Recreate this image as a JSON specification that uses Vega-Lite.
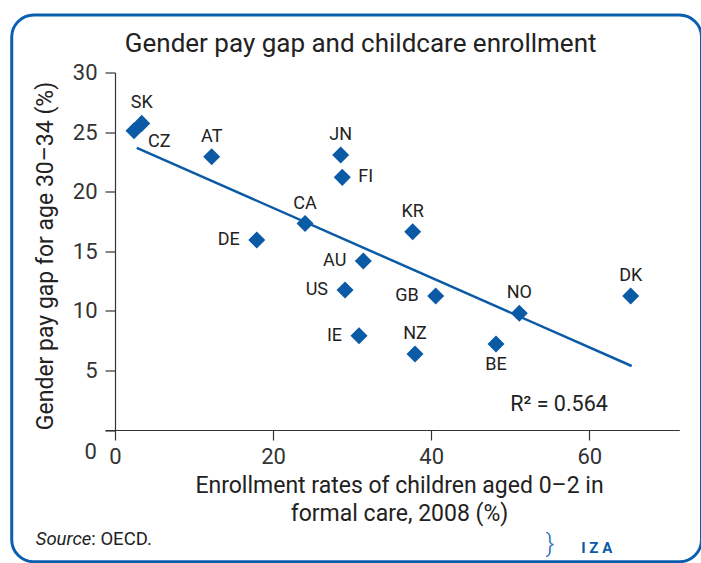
{
  "$schema": "https://vega.github.io/schema/vega-lite/v6.json",
  "width": 574.3,
  "height": 357.5,
  "autosize": {"type": "none"},
  "padding": {"left": 105, "top": 72.5, "right": 21.7, "bottom": 133},
  "background": "white",
  "title": {
    "text": "Gender pay gap and childcare enrollment",
    "font": "Roboto",
    "fontSize": 26,
    "fontWeight": "normal",
    "color": "#222222",
    "anchor": "middle",
    "frame": "group",
    "dx": -31.5,
    "baseline": "alphabetic",
    "offset": -64
  },
  "config": {
    "view": {"stroke": null},
    "font": "Roboto",
    "text": {"font": "Roboto"},
    "axis": {
      "grid": false,
      "domainColor": "#333333",
      "tickColor": "#333333",
      "domainWidth": 1.2,
      "tickWidth": 1.2,
      "tickSize": 10,
      "labelFont": "Roboto",
      "labelFontSize": 22,
      "labelColor": "#333333",
      "titleFont": "Roboto",
      "titleFontWeight": "normal",
      "titleColor": "#222222",
      "labelOverlap": false,
      "labelFlush": false,
      "labelBound": false
    }
  },
  "datasets": {
    "pts": [
      {"country": "SK", "enroll": 3.38, "gap": 25.73},
      {"country": "CZ", "enroll": 2.4, "gap": 25.11},
      {"country": "AT", "enroll": 12.23, "gap": 22.93},
      {"country": "JN", "enroll": 28.55, "gap": 23.07},
      {"country": "FI", "enroll": 28.75, "gap": 21.2},
      {"country": "CA", "enroll": 24.04, "gap": 17.32},
      {"country": "DE", "enroll": 17.93, "gap": 15.94},
      {"country": "KR", "enroll": 37.66, "gap": 16.64},
      {"country": "AU", "enroll": 31.41, "gap": 14.18},
      {"country": "US", "enroll": 29.1, "gap": 11.74},
      {"country": "GB", "enroll": 40.57, "gap": 11.24},
      {"country": "NO", "enroll": 51.15, "gap": 9.79},
      {"country": "DK", "enroll": 65.24, "gap": 11.24},
      {"country": "IE", "enroll": 30.87, "gap": 7.91},
      {"country": "NZ", "enroll": 37.95, "gap": 6.38},
      {"country": "BE", "enroll": 48.2, "gap": 7.21}
    ],
    "fit": [
      {"enroll": 2.75, "gap": 23.68},
      {"enroll": 65.36, "gap": 5.37}
    ]
  },
  "layer": [
    {
      "data": {"values": [{}]},
      "mark": {"type": "rect", "fillOpacity": 0, "stroke": "#0a5fae", "strokeWidth": 3, "cornerRadius": 22},
      "encoding": {
        "x": {"datum": -13.07, "type": "quantitative", "scale": {"domain": [-1.27, 71.39], "nice": false, "zero": false}},
        "x2": {"datum": 74.2},
        "y": {"datum": 34.82, "type": "quantitative", "scale": {"domain": [0, 30], "nice": false}},
        "y2": {"datum": -11.05}
      }
    },
    {
      "data": {"name": "fit"},
      "mark": {"type": "line", "color": "#0b5aa6", "strokeWidth": 2.5},
      "encoding": {
        "x": {"field": "enroll", "type": "quantitative", "scale": {"domain": [-1.27, 71.39], "nice": false, "zero": false}},
        "y": {"field": "gap", "type": "quantitative", "scale": {"domain": [0, 30], "nice": false}}
      }
    },
    {
      "data": {"name": "pts"},
      "mark": {"type": "point", "shape": "diamond", "filled": true, "size": 290, "color": "#0b5aa6", "opacity": 1},
      "encoding": {
        "x": {
          "field": "enroll", "type": "quantitative",
          "scale": {"domain": [-1.27, 71.39], "nice": false, "zero": false},
          "axis": {
            "values": [0, 20, 40, 60],
            "labelPadding": 6,
            "labelOverlap": false,
            "title": ["Enrollment rates of children aged 0–2 in", "formal care, 2008 (%)"],
            "titleFontSize": 23,
            "titleLineHeight": 28,
            "titlePadding": 7,
            "titleX": 294
          }
        },
        "y": {
          "field": "gap", "type": "quantitative",
          "scale": {"domain": [0, 30], "nice": false},
          "axis": {
            "values": [0, 5, 10, 15, 20, 25, 30],
            "offset": -10,
            "labelPadding": 8,
            "labelExpr": "datum.value === 0 ? '' : datum.label",
            "title": "Gender pay gap for age 30–34 (%)",
            "titleFontSize": 23,
            "titlePadding": 15,
            "titleY": 183
          }
        }
      }
    },
    {
      "data": {"values": [{}]},
      "mark": {"type": "text", "fontSize": 22, "color": "#333333", "baseline": "middle", "align": "right", "text": "0"},
      "encoding": {
        "x": {"datum": -2.3, "type": "quantitative"},
        "y": {"datum": -1.85, "type": "quantitative"}
      }
    },
    {
      "data": {"name": "pts"},
      "transform": [{"filter": {"field": "country", "oneOf": ["SK", "AT", "JN", "CA", "KR", "NO", "DK", "NZ"]}}],
      "mark": {"type": "text", "fontSize": 18, "color": "#222222", "dy": -20, "baseline": "middle", "align": "center"},
      "encoding": {
        "x": {"field": "enroll", "type": "quantitative"},
        "y": {"field": "gap", "type": "quantitative"},
        "text": {"field": "country"}
      }
    },
    {
      "data": {"name": "pts"},
      "transform": [{"filter": {"field": "country", "oneOf": ["DE", "AU", "US", "GB", "IE"]}}],
      "mark": {"type": "text", "fontSize": 18, "color": "#222222", "dx": -17, "baseline": "middle", "align": "right"},
      "encoding": {
        "x": {"field": "enroll", "type": "quantitative"},
        "y": {"field": "gap", "type": "quantitative"},
        "text": {"field": "country"}
      }
    },
    {
      "data": {"name": "pts"},
      "transform": [{"filter": {"field": "country", "oneOf": ["FI"]}}],
      "mark": {"type": "text", "fontSize": 18, "color": "#222222", "dx": 16, "baseline": "middle", "align": "left"},
      "encoding": {
        "x": {"field": "enroll", "type": "quantitative"},
        "y": {"field": "gap", "type": "quantitative"},
        "text": {"field": "country"}
      }
    },
    {
      "data": {"name": "pts"},
      "transform": [{"filter": {"field": "country", "oneOf": ["CZ"]}}],
      "mark": {"type": "text", "fontSize": 18, "color": "#222222", "dx": 14, "dy": 11, "baseline": "middle", "align": "left"},
      "encoding": {
        "x": {"field": "enroll", "type": "quantitative"},
        "y": {"field": "gap", "type": "quantitative"},
        "text": {"field": "country"}
      }
    },
    {
      "data": {"name": "pts"},
      "transform": [{"filter": {"field": "country", "oneOf": ["BE"]}}],
      "mark": {"type": "text", "fontSize": 18, "color": "#222222", "dy": 21, "baseline": "middle", "align": "center"},
      "encoding": {
        "x": {"field": "enroll", "type": "quantitative"},
        "y": {"field": "gap", "type": "quantitative"},
        "text": {"field": "country"}
      }
    },
    {
      "data": {"values": [{}]},
      "mark": {"type": "text", "fontSize": 21.5, "color": "#222222", "baseline": "middle", "align": "center", "text": "R² = 0.564"},
      "encoding": {
        "x": {"datum": 56.17, "type": "quantitative"},
        "y": {"datum": 2.1, "type": "quantitative"}
      }
    },
    {
      "data": {"values": [{}]},
      "mark": {"type": "text", "fontSize": 18.5, "fontStyle": "italic", "color": "#222222", "baseline": "alphabetic", "align": "right", "text": "Source"},
      "encoding": {
        "x": {"datum": -3.0, "type": "quantitative"},
        "y": {"datum": -9.65, "type": "quantitative"}
      }
    },
    {
      "data": {"values": [{}]},
      "mark": {"type": "text", "fontSize": 18.5, "color": "#222222", "baseline": "alphabetic", "align": "left", "text": ": OECD."},
      "encoding": {
        "x": {"datum": -3.0, "type": "quantitative"},
        "y": {"datum": -9.65, "type": "quantitative"}
      }
    },
    {
      "data": {"values": [{}]},
      "mark": {"type": "text", "fontSize": 15, "fontWeight": "bold", "color": "#0b5aa6", "baseline": "alphabetic", "align": "center", "text": "I  Z  A"},
      "encoding": {
        "x": {"datum": 60.94, "type": "quantitative"},
        "y": {"datum": -10.32, "type": "quantitative"}
      }
    },
    {
      "data": {"values": [{}]},
      "mark": {"type": "text", "fontSize": 26, "fontWeight": 300, "color": "#2a6cb6", "baseline": "middle", "align": "center", "text": "}"},
      "encoding": {
        "x": {"datum": 55.03, "type": "quantitative"},
        "y": {"datum": -9.6, "type": "quantitative"}
      }
    }
  ]
}
